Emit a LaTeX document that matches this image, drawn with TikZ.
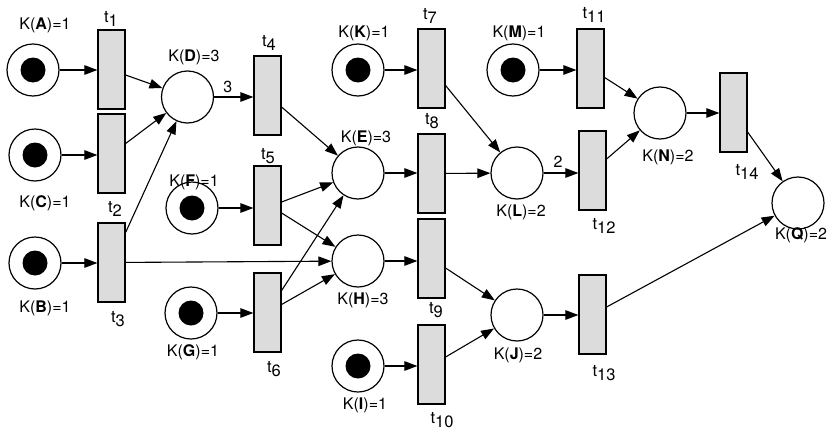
\documentclass[tikz,border=0pt]{standalone}
\usepackage{fontspec}
\setmainfont{TeX Gyre Heros}
\usetikzlibrary{arrows.meta}
\definecolor{tgray}{RGB}{220,220,220}
\newcommand\tsub[1]{t\raisebox{-4pt}{#1}}
\begin{document}
\begin{tikzpicture}[x=1pt,y=-1pt,
 place/.style={circle,draw,line width=1.2pt,minimum size=52pt,inner sep=0pt},
 token/.style={circle,fill=black,minimum size=25pt,inner sep=0pt},
 trans/.style={rectangle,draw,line width=1.2pt,fill=tgray,minimum width=27pt,minimum height=79pt,inner sep=0pt},
 lbl/.style={inner sep=0pt,font=\fontsize{16}{18}\selectfont},
 tl/.style={inner sep=0pt,font=\fontsize{16.5}{18}\selectfont},
 arc/.style={line width=1.1pt,-{Triangle[length=13pt,width=9.5pt]}},
]
\useasboundingbox (0,0) rectangle (833,434);

% places
\node[place] (A) at (33,70) {};
\node[place] (C) at (35,155) {};
\node[place] (B) at (35,263) {};
\node[place] (D) at (187.5,97) {};
\node[place] (F) at (192,208) {};
\node[place] (G) at (191,313) {};
\node[place] (K) at (358,70) {};
\node[place] (E) at (358,173) {};
\node[place] (H) at (358,261) {};
\node[place] (I) at (358,366) {};
\node[place] (M) at (513,70) {};
\node[place] (L) at (517,173) {};
\node[place] (J) at (517,315) {};
\node[place] (N) at (660,113) {};
\node[place] (Q) at (798,203) {};

% tokens
\node[token] (tokA) at (A) {};
\node[token] (tokC) at (C) {};
\node[token] (tokB) at (B) {};
\node[token] (tokF) at (F) {};
\node[token] (tokG) at (G) {};
\node[token] (tokK) at (K) {};
\node[token] (tokI) at (I) {};
\node[token] (tokM) at (M) {};

% transitions
\node[trans] (t1) at (111.5,69.5) {};
\node[trans] (t2) at (111.5,153.5) {};
\node[trans] (t3) at (111.5,262.5) {};
\node[trans] (t4) at (267.5,95.5) {};
\node[trans] (t5) at (267.5,205.5) {};
\node[trans] (t6) at (267.5,312.5) {};
\node[trans] (t7) at (431.5,68.5) {};
\node[trans] (t8) at (431.5,173.5) {};
\node[trans] (t9) at (431.5,258.5) {};
\node[trans] (t10) at (431.5,364.5) {};
\node[trans] (t11) at (590.5,68.5) {};
\node[trans] (t12) at (592.5,170.5) {};
\node[trans] (t13) at (592.5,314.5) {};
\node[trans] (t14) at (733.5,112.5) {};

% place labels
\node[lbl] (lA) at (45,25) {K(\textbf{A})=1};
\node[lbl] (lC) at (45,203) {K(\textbf{C})=1};
\node[lbl] (lB) at (45,308) {K(\textbf{B})=1};
\node[lbl] (lD) at (194,57) {K(\textbf{D})=3};
\node[lbl] (lF) at (194,182) {K(\textbf{F})=1};
\node[lbl] (lG) at (193,352) {K(\textbf{G})=1};
\node[lbl] (lK) at (364,33) {K(\textbf{K})=1};
\node[lbl] (lM) at (519,33) {K(\textbf{M})=1};
\node[lbl] (lE) at (366,138) {K(\textbf{E})=3};
\node[lbl] (lL) at (521,212) {K(\textbf{L})=2};
\node[lbl] (lH) at (363,300) {K(\textbf{H})=3};
\node[lbl] (lI) at (365,405) {K(\textbf{I})=1};
\node[lbl] (lJ) at (518,355) {K(\textbf{J})=2};
\node[lbl] (lN) at (668,157) {K(\textbf{N})=2};
\node[lbl] (lQ) at (801,235) {K(\textbf{Q})=2};

% transition labels
\node[tl] (lt1) at (111,18.5) {\tsub{1}};
\node[tl] (lt2) at (115,209) {\tsub{2}};
\node[tl] (lt3) at (118,319) {\tsub{3}};
\node[tl] (lt4) at (269,43) {\tsub{4}};
\node[tl] (lt5) at (268,156) {\tsub{5}};
\node[tl] (lt6) at (274,369) {\tsub{6}};
\node[tl] (lt7) at (430,16) {\tsub{7}};
\node[tl] (lt8) at (432,121) {\tsub{8}};
\node[tl] (lt9) at (436,310) {\tsub{9}};
\node[tl] (lt10) at (442,420) {\tsub{10}};
\node[tl] (lt11) at (594,15) {\tsub{11}};
\node[tl] (lt12) at (604,226) {\tsub{12}};
\node[tl] (lt13) at (604,373) {\tsub{13}};
\node[tl] (lt14) at (747,172) {\tsub{14}};

% arcs place -> transition
\draw[arc] (A) -- (A -| t1.west);
\draw[arc] (C) -- (C -| t2.west);
\draw[arc] (B) -- (B -| t3.west);
\draw[arc] (D) -- (D -| t4.west) node[lbl,midway,above=4pt,xshift=-6pt] {3};
\draw[arc] (F) -- (F -| t5.west);
\draw[arc] (G) -- (G -| t6.west);
\draw[arc] (K) -- (K -| t7.west);
\draw[arc] (E) -- (E -| t8.west);
\draw[arc] (H) -- (H -| t9.west);
\draw[arc] (I) -- (I -| t10.west);
\draw[arc] (M) -- (M -| t11.west);
\draw[arc] (L) -- (L -| t12.west) node[lbl,midway,above=5pt,xshift=-3pt] {2};
\draw[arc] (J) -- (J -| t13.west);
\draw[arc] (N) -- (N -| t14.west);

% arcs transition -> place
\draw[arc] ([yshift=-5.5pt]t1.east) -- (D);
\draw[arc] ([yshift=10pt]t2.east) -- (D);
\draw[arc] ([yshift=30pt]t3.east) -- (D);
\draw[arc] (t3) -- (H);
\draw[arc] ([yshift=-11.5pt]t4.east) -- (E);
\draw[arc] ([yshift=3.5pt]t5.east) -- (E);
\draw[arc] ([yshift=-7.5pt]t5.east) -- (H);
\draw[arc] ([yshift=22pt]t6.east) -- (E);
\draw[arc] ([yshift=8pt]t6.east) -- (H);
\draw[arc] ([yshift=-17pt]t7.east) -- (L);
\draw[arc] (t8) -- (L);
\draw[arc] ([yshift=-9.5pt]t9.east) -- (J);
\draw[arc] ([yshift=7.5pt]t10.east) -- (J);
\draw[arc] ([yshift=-9pt]t11.east) -- (N);
\draw[arc] ([yshift=11.5pt]t12.east) -- (N);
\draw[arc] ([yshift=-19.5pt]t14.east) -- (Q);
\draw[arc] ([yshift=7.5pt]t13.east) -- (Q);
\end{tikzpicture}
\end{document}
